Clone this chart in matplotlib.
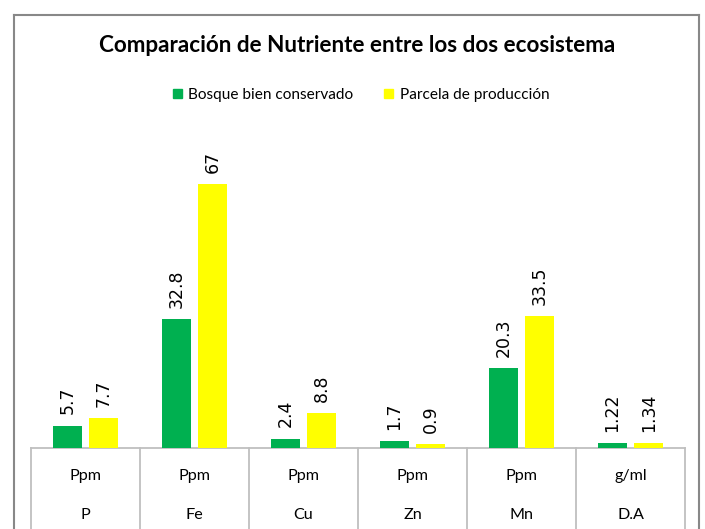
import matplotlib
matplotlib.use("Agg")
import matplotlib.pyplot as plt
from matplotlib.patches import Patch
from matplotlib.lines import Line2D
import matplotlib.transforms as mtrans
import numpy as np

elements = ["P", "Fe", "Cu", "Zn", "Mn", "D.A"]
units = ["Ppm", "Ppm", "Ppm", "Ppm", "Ppm", "g/ml"]
bosque = [5.7, 32.8, 2.4, 1.7, 20.3, 1.22]
parcela = [7.7, 67, 8.8, 0.9, 33.5, 1.34]
bosque_labels = ["5.7", "32.8", "2.4", "1.7", "20.3", "1.22"]
parcela_labels = ["7.7", "67", "8.8", "0.9", "33.5", "1.34"]
series_names = ["Bosque bien conservado", "Parcela de producción"]
title = "Comparación de Nutriente entre los dos ecosistema"

GREEN = "#00B050"
YELLOW = "#FFFF00"
FONT = ["Lato", "DejaVu Sans"]

W, H = 705, 529
fig = plt.figure(figsize=(W / 100, H / 100), dpi=100)
renderer = fig.canvas.get_renderer()


def fit_size(s, target_px, weight="normal", base=12.0):
    t = fig.text(0, 0, s, fontsize=base, family=FONT, fontweight=weight)
    w = t.get_window_extent(renderer=renderer).width
    t.remove()
    return base * target_px / w


left, right, base, top = 31, 685, 448, 133
ax = fig.add_axes([left / W, 1 - base / H, (right - left) / W, (base - top) / H])

x = np.arange(len(elements))
bw = 0.266
off = 0.167
b1 = ax.bar(x - off, bosque, bw, color=GREEN, zorder=3)
b2 = ax.bar(x + off, parcela, bw, color=YELLOW, zorder=3)

for bars, labs in ((b1, bosque_labels), (b2, parcela_labels)):
    for r, lab in zip(bars, labs):
        ax.annotate(lab, (r.get_x() + r.get_width() / 2, r.get_height()),
                    xytext=(0, 8), textcoords="offset points",
                    rotation=90, ha="center", va="bottom",
                    fontsize=12.5, family="DejaVu Sans", color="#000000")

ax.set_xlim(-0.5, len(elements) - 0.5)
ax.set_ylim(0, 80)
ax.set_xticks([])
ax.set_yticks([])
for s in ["top", "right", "left"]:
    ax.spines[s].set_visible(False)
ax.spines["bottom"].set_color("#bfbfbf")
ax.spines["bottom"].set_linewidth(1.3)

trans = mtrans.blended_transform_factory(ax.transData, ax.transAxes)
for b in np.arange(len(elements) + 1) - 0.5:
    ax.plot([b, b], [0, -0.4], transform=trans, color="#bfbfbf", lw=1.3, clip_on=False)

cat_fs = fit_size("Ppm", 29) * 1.1
h_ax = base - top
for i in range(len(elements)):
    ax.text(i, -(476 - base) / h_ax, units[i], transform=trans, ha="center", va="center",
            fontsize=cat_fs, family=FONT)
    ax.text(i, -(515 - base) / h_ax, elements[i], transform=trans, ha="center", va="center",
            fontsize=cat_fs, family=FONT)

# chart border
bl, bt, br = 13.5, 15, 699
bc = "#888888"
fig.add_artist(Line2D([bl / W, bl / W], [0, 1 - bt / H], color=bc, lw=1.5))
fig.add_artist(Line2D([br / W, br / W], [0, 1 - bt / H], color=bc, lw=1.5))
fig.add_artist(Line2D([bl / W, br / W], [1 - bt / H, 1 - bt / H], color=bc, lw=1.5))

title_fs = fit_size(title, 480, weight="bold") * 1.07
fig.text(357 / W, 1 - 46 / H, title, ha="center", va="center",
         fontsize=title_fs, fontweight="bold", family=FONT)

leg_fs = fit_size(series_names[0], 158) * 1.05
handles = [Patch(color=GREEN), Patch(color=YELLOW)]
fig.legend(handles, series_names, loc="center", bbox_to_anchor=(361 / W, 1 - 95 / H),
           ncol=2, frameon=False, prop={"family": FONT, "size": leg_fs},
           handlelength=0.6, handleheight=0.6, handletextpad=0.4, columnspacing=2.0)

fig.savefig("out.png", dpi=100)
